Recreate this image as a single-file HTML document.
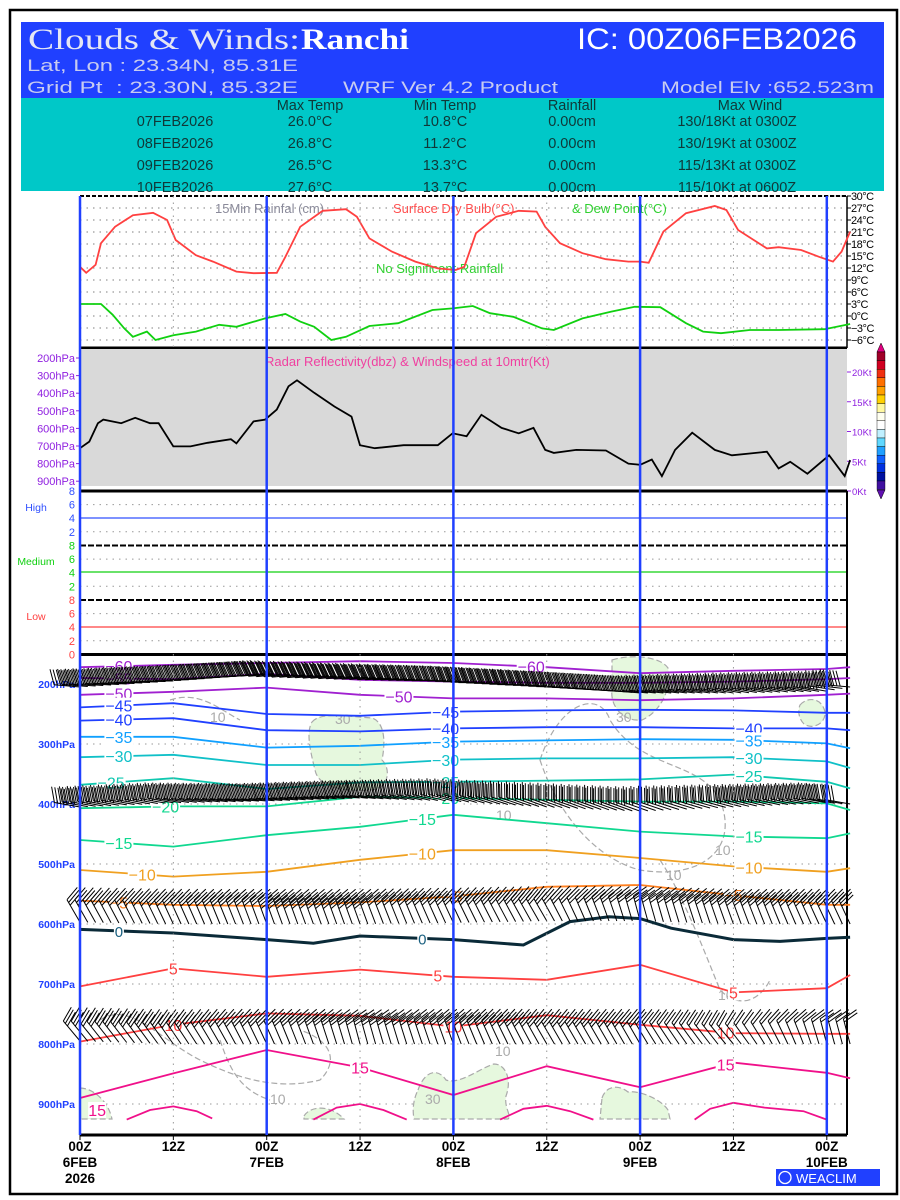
<!DOCTYPE html>
<html><head><meta charset="utf-8"><title>Clouds & Winds: Ranchi</title>
<style>
html,body{margin:0;padding:0;background:#fff;}
svg{display:block;font-family:"Liberation Sans",sans-serif;}
</style></head>
<body>
<svg id="chart" width="900" height="1200" viewBox="0 0 900 1200" xmlns="http://www.w3.org/2000/svg">
<rect x="10" y="10" width="887" height="1184" fill="#fff" stroke="#000" stroke-width="2.5"/>
<g>
<rect x="21" y="22" width="863" height="76" fill="#2040ff"/>
<text x="28" y="49" font-family="Liberation Serif,serif" font-size="30" fill="#e4e6f4" textLength="272" lengthAdjust="spacingAndGlyphs">Clouds &amp; Winds:</text>
<text x="301" y="49" font-family="Liberation Serif,serif" font-size="30" font-weight="bold" fill="#fff" textLength="108" lengthAdjust="spacingAndGlyphs">Ranchi</text>
<text x="577" y="49" font-size="30" fill="#fff" textLength="280" lengthAdjust="spacingAndGlyphs">IC: 00Z06FEB2026</text>
<text x="27" y="71" font-size="17" fill="#c8ccf0" textLength="271" lengthAdjust="spacingAndGlyphs">Lat, Lon : 23.34N, 85.31E</text>
<text x="27" y="93" font-size="17" fill="#c8ccf0" textLength="271" lengthAdjust="spacingAndGlyphs" xml:space="preserve">Grid Pt  : 23.30N, 85.32E</text>
<text x="343" y="93" font-size="17" fill="#c8ccf0" textLength="215" lengthAdjust="spacingAndGlyphs">WRF Ver 4.2 Product</text>
<text x="661" y="93" font-size="17" fill="#c8ccf0" textLength="213" lengthAdjust="spacingAndGlyphs">Model Elv :652.523m</text>
<rect x="21" y="98" width="863" height="93" fill="#00c8c8"/>
<g font-size="14.5" fill="#103838" text-anchor="middle">
<text x="310" y="110">Max Temp</text><text x="445" y="110">Min Temp</text><text x="572" y="110">Rainfall</text><text x="750" y="110">Max Wind</text>
<text x="175" y="126">07FEB2026</text><text x="310" y="126">26.0°C</text><text x="445" y="126">10.8°C</text><text x="572" y="126">0.00cm</text><text x="737" y="126">130/18Kt at 0300Z</text>
<text x="175" y="148">08FEB2026</text><text x="310" y="148">26.8°C</text><text x="445" y="148">11.2°C</text><text x="572" y="148">0.00cm</text><text x="737" y="148">130/19Kt at 0300Z</text>
<text x="175" y="170">09FEB2026</text><text x="310" y="170">26.5°C</text><text x="445" y="170">13.3°C</text><text x="572" y="170">0.00cm</text><text x="737" y="170">115/13Kt at 0300Z</text>
<text x="175" y="192">10FEB2026</text><text x="310" y="192">27.6°C</text><text x="445" y="192">13.7°C</text><text x="572" y="192">0.00cm</text><text x="737" y="192">115/10Kt at 0600Z</text>
</g>
</g>
<g id="layer"></g>
</svg>
<script>
// ---------- data ----------
const tempHours = [0,0.8,2,2.7,4.5,6.8,9.4,11.2,12.3,14.9,17.1,20.1,22.3,25.3,26.4,28.3,31.2,34.2,35.6,37.2,40.1,43.1,46,48.3,49.4,50.9,53.5,56.4,58.7,59.8,61.7,64.6,67.6,70.5,72,73.1,75,77.9,81.6,83.1,84.6,88.3,89.8,92.7,95,96.8,97.9,99];
const tempValues = [12.3,10.8,12.8,18.2,22.3,25.2,25.8,24,19,15.2,13.6,11.1,10.7,10.8,14.8,22.3,26.3,26.7,24.8,19.4,16.1,13.6,11.9,11.5,12.3,20.7,24.8,26.3,26.1,22.3,18.2,15.7,14.2,13.6,13.6,13.3,21.1,25.7,27.5,26.5,21.5,16.9,17.2,16.5,14.8,13.6,16.1,21.1];
const dewHours = [0,2.7,4.2,5.7,6.8,8.6,9.7,12,14.9,17.9,20.1,23.8,26.4,28.3,30.1,32.3,34.2,37.2,40.9,45.3,47.9,50.5,52.7,55.7,59.4,60.9,64.6,68.3,71.3,74.6,77.9,80.1,82.4,86.1,89.8,95.7,99];
const dewValues = [3,3,0.3,-3.1,-5.2,-3.9,-6,-4.8,-3.9,-2.2,-2.7,-0.6,0.5,-1.4,-2.7,-6,-5.2,-2.5,-1.8,1.5,1.9,2.5,0.7,-0.2,-3.1,-3.5,-0.6,1.1,2.3,2.2,-1.8,-3.9,-4.3,-3.5,-3.5,-3.3,-2];
const windHours = [0,1.2,2.3,3,5.3,7.1,9,10.1,12,14.2,16.4,19.4,20.1,22.3,23.8,25.3,26.8,27.9,30.1,32.7,34.9,36,37.9,41.6,46,47.9,49.7,51.6,54.2,56.4,58.3,59.8,60.9,63.8,67.6,70.5,72,73.5,74.8,76.5,78.7,81.6,83.8,86.1,88.3,89.8,91.3,93.5,96.3,98.3,99];
const windSpeed = [7.2,8.3,11.4,12,11.4,12.3,11.4,11.4,7.5,7.5,8.1,8.7,8,11.7,12,13.7,17.6,18.6,16.5,14.2,12.5,7.7,7.2,7.7,7.7,9.7,9.2,12.8,10.6,9.7,10.6,6.9,6.4,6.9,6.8,4.6,4.4,5.3,2.5,6.9,9.8,6.9,6,6.3,6.6,3.8,4.9,2.9,6,2.5,5.2];
const tempTicks = [30,27,24,21,18,15,12,9,6,3,0,-3,-6];
const windTicks = [20,15,10,5,0];
const presTicks = [200,300,400,500,600,700,800,900];
const isoHours = [0,12,24,36,48,60,72,84,96,99];
const isoLabels = [-60,-55,-50,-45,-40,-35,-30,-25,-20,-15,-10,-5,5,10,15];
const isoM60 = [172,168,165,162,165,172,182,178,175,172];
const isoM55 = [190,192,183,193,196,198,198,196,192,190];
const isoM50 = [218,213,206,218,224,224,227,224,218,216];
const isoM45 = [239,232,250,253,246,244,243,244,248,248];
const isoM40 = [261,257,277,279,274,272,272,274,274,277];
const isoM35 = [288,288,306,303,296,294,292,293,299,307];
const isoM30 = [322,318,335,335,326,324,324,322,329,340];
const isoM25 = [368,357,375,364,363,361,359,351,363,374];
const isoM20 = [407,404,404,388,390,393,396,396,399,410];
const isoM15 = [460,471,452,438,418,432,446,454,457,449];
const isoM10 = [510,521,513,493,477,477,490,504,513,507];
const isoM5 = [561,568,570,564,554,538,535,552,568,568];
const iso5 = [704,674,688,676,688,693,668,714,707,685];
const iso10 = [796,768,749,753,771,752,768,782,783,783];
const iso15 = [890,849,810,839,885,837,872,831,848,857];
const zeroHours = [0,12,24,30,36,48,57,63,68,72,76,84,90,96,99];
const zeroPres = [609,615,626,632,620,626,635,596,588,591,607,626,629,624,622];
const arcHours = [[6,9,12,15,17],[30,33,36,39,42],[54,57,60,63,66],[79,81,84,88,93,96]];
const arcPres = [[926,910,904,912,924],[926,906,900,910,926],[926,908,903,912,926],[926,908,898,906,912,926]];
const barbHours = [0,12,24,36,48,60,72,84,96,99];
const barbBase200 = [205,195,183,188,195,203,215,215,212,205];
const barbDir200 = [275,270,265,265,270,270,275,280,280,275];
const barbSpd200 = [60,65,80,85,85,80,75,60,55,55];
const barbBase400 = [405,398,395,390,395,405,412,405,398,400];
const barbDir400 = [280,280,275,275,285,290,290,285,280,280];
const barbSpd400 = [45,50,55,55,50,40,40,45,45,40];
const barbBase600 = [597,600,600,600,598,595,595,600,600,600];
const barbDir600 = [330,335,340,340,335,330,345,340,335,335];
const barbSpd600 = [30,30,35,35,30,25,25,25,30,30];
const barbBase800 = [795,800,800,800,800,800,800,800,800,800];
const barbDir800 = [320,325,335,345,340,330,330,320,345,345];
const barbSpd800 = [25,25,25,25,25,25,25,20,20,20];

// ---------- axes ----------
const X0=80, XR=847, PXH=186.7/24;
const xH = h => X0 + h*PXH;
const yT = t => 196 + (30-t)*4;
const yW = k => 491 - k*5.95;
const yP = p => 684 + (p-200)*0.6;
const NS="http://www.w3.org/2000/svg";
const layer=document.getElementById('layer');
function mk(tag, attrs, parent){const e=document.createElementNS(NS,tag);for(const k in attrs)e.setAttribute(k,attrs[k]);(parent||layer).appendChild(e);return e;}
function txt(x,y,s,attrs,parent){const e=mk('text',Object.assign({x:x,y:y},attrs),parent);e.textContent=s;return e;}
function pathFrom(hs,vs,fy){return hs.map((h,i)=>(i?'L':'M')+xH(h).toFixed(1)+' '+fy(vs[i]).toFixed(1)).join(' ');}
function interp(hs,vs,h){if(h<=hs[0])return vs[0];for(let i=1;i<hs.length;i++){if(h<=hs[i]){const f=(h-hs[i-1])/(hs[i]-hs[i-1]);return vs[i-1]+f*(vs[i]-vs[i-1]);}}return vs[vs.length-1];}

// ---------- panel 1: temperature ----------
const p1=mk('g',{});


tempTicks.forEach(t=>{
  const l=mk('line',{x1:X0,x2:XR,y1:yT(t),y2:yT(t),stroke:'#999','stroke-dasharray':'1.5 5','stroke-width':1.2},p1);
  
  
  mk('line',{x1:XR,x2:XR+4,y1:yT(t),y2:yT(t),stroke:'#000'},p1);
  const tl=txt(XR+4,yT(t)+4,(t<0?'\u2212':'')+Math.abs(t)+'°C',{'font-size':11,fill:'#000','letter-spacing':'-0.5'},p1);
  
  
});
mk('line',{x1:X0,x2:XR,y1:196,y2:196,stroke:'#000','stroke-width':2,'stroke-dasharray':'4 2'},p1);
mk('line',{x1:XR,x2:XR,y1:196,y2:348,stroke:'#000','stroke-width':1.5},p1);
const lg1=txt(215,213,'15Min Rainfal (cm)',{'font-size':13,fill:'#8a8a9a'},p1);


const lg2=txt(393,213,'Surface Dry Bulb(°C)',{'font-size':13,fill:'#ff5050'},p1);


const lg3=txt(572,213,'& Dew Point(°C)',{'font-size':13,fill:'#30d030'},p1);


const nr=txt(376,273,'No Significant Rainfall',{'font-size':13,fill:'#30d030'},p1);


const tline=mk('path',{d:pathFrom(tempHours,tempValues,yT),fill:'none',stroke:'#ff4040','stroke-width':1.8},p1);


const dline=mk('path',{d:pathFrom(dewHours,dewValues,yT),fill:'none',stroke:'#10d010','stroke-width':1.8},p1);


mk('line',{x1:X0,x2:XR,y1:348,y2:348,stroke:'#000','stroke-width':3},p1);

// ---------- panel 2: wind speed ----------
const p2=mk('g',{});


mk('rect',{x:X0,y:349,width:XR-X0,height:137,fill:'#d9d9d9'},p2);
['200hPa','300hPa','400hPa','500hPa','600hPa','700hPa','800hPa','900hPa'].forEach((s,i)=>{
  const y=358+i*17.6;
  const l=txt(75,y+4,s,{'font-size':11,fill:'#9020e0','text-anchor':'end'},p2);
  
  
  mk('line',{x1:76,x2:80,y1:y,y2:y,stroke:'#9020e0'},p2);
});
windTicks.forEach(k=>{
  mk('line',{x1:XR,x2:XR+4,y1:yW(k),y2:yW(k),stroke:'#9020e0'},p2);
  const l=txt(XR+5,yW(k)+4,k+'Kt',{'font-size':9.5,fill:'#9020e0'},p2);
  
  
});
const rt=txt(265,366,'Radar Reflectivity(dbz) & Windspeed at 10mtr(Kt)',{'font-size':13,fill:'#f040a0'},p2);


const wl=mk('path',{d:pathFrom(windHours,windSpeed,yW),fill:'none',stroke:'#000','stroke-width':1.8},p2);


mk('line',{x1:X0,x2:XR,y1:491,y2:491,stroke:'#000','stroke-width':3},p2);
const cbCols=['#a00028','#d00020','#f03010','#ff7000','#ffa000','#ffd000','#fff8a0','#fffff0','#ffffff','#c0f0ff','#60d8ff','#20a0ff','#1060ff','#0030e0','#0010a0','#4010a0'];
const cb=mk('g',{},p2);


mk('polygon',{points:'877,352 885,352 881,343',fill:'#e00080',stroke:'#000','stroke-width':0.5},cb);
cbCols.forEach((c,i)=>mk('rect',{x:877,y:352+i*8.6,width:8,height:8.6,fill:c,stroke:'#000','stroke-width':0.4},cb));
mk('polygon',{points:'877,490 885,490 881,499',fill:'#6010b0',stroke:'#000','stroke-width':0.5},cb);

// ---------- panel 3: cloud cover ----------
const p3=mk('g',{});


const bands=[{top:491,col:'#3050ff',name:'High',ly:518},{top:545.5,col:'#10d010',name:'Medium',ly:572},{top:600,col:'#ff4040',name:'Low',ly:627}];
bands.forEach((b,bi)=>{
  [8,6,4,2,0].forEach((v,i)=>{
    const y=b.top+i*13.6;
    if(v===6||v===2) mk('line',{x1:X0,x2:XR,y1:y,y2:y,stroke:'#999','stroke-dasharray':'1.5 5'},p3);
    if(!(bi<2&&v===0)){const l=txt(75,y+4,String(v),{'font-size':11,fill:b.col,'text-anchor':'end'},p3);
    
    }
  });
  mk('line',{x1:X0,x2:XR,y1:b.ly,y2:b.ly,stroke:b.col,'stroke-width':1.2},p3);
  const n=txt(36,b.ly-7,b.name,{'font-size':10.5,fill:b.col,'text-anchor':'middle'},p3);
  
  
});
mk('line',{x1:X0,x2:XR,y1:545.5,y2:545.5,stroke:'#000','stroke-width':2,'stroke-dasharray':'6 2'},p3);
mk('line',{x1:X0,x2:XR,y1:600,y2:600,stroke:'#000','stroke-width':2,'stroke-dasharray':'6 2'},p3);
mk('line',{x1:XR,x2:XR,y1:491,y2:1135,stroke:'#000','stroke-width':2},p3);
mk('line',{x1:X0,x2:XR,y1:654.5,y2:654.5,stroke:'#000','stroke-width':3},p3);

// ---------- panel 4: pressure-time cross section ----------
const p4=mk('g',{});


presTicks.forEach(p=>{
  if(p>200) mk('line',{x1:X0,x2:XR,y1:yP(p),y2:yP(p),stroke:'#999','stroke-dasharray':'1.5 5'},p4);
  const l=txt(75,yP(p)+4,p+'hPa',{'font-size':10.5,'font-weight':'bold',fill:'#2040ff','text-anchor':'end'},p4);
  
  
});
const blobs=[
 'M312 722 C320 712 345 716 372 718 C384 722 386 740 382 760 C392 770 388 790 370 790 C340 792 318 786 315 770 C310 750 306 732 312 722Z',
 'M612 660 C630 654 660 656 668 668 C672 690 660 712 642 720 C622 722 610 705 612 690Z',
 'M800 705 C808 696 822 698 825 712 C826 724 812 730 804 724 C798 718 798 710 800 705Z',
 'M418 1090 C425 1070 438 1068 446 1080 C460 1085 480 1068 494 1064 C506 1064 512 1080 506 1096 C504 1108 512 1116 508 1119 L414 1119 C412 1108 414 1098 418 1090Z',
 'M602 1098 C606 1086 618 1084 628 1092 C640 1090 662 1100 668 1110 L670 1119 L600 1119Z',
 'M80 1088 C92 1088 108 1100 112 1119 L80 1119Z',
 'M304 1116 C310 1106 330 1104 344 1119 L304 1119Z'];
blobs.forEach(d=>{
  const b=mk('path',{d:d,fill:'#e6f8de',stroke:'#aaa','stroke-dasharray':'6 3','stroke-width':1.2},p4);
  
  
});
['M540 760 C560 700 600 690 610 720 C640 770 700 760 720 800 C740 850 700 880 640 870 C600 860 560 820 540 760Z',
 'M100 1020 C130 1000 160 1040 200 1060 C240 1080 280 1090 320 1080 C340 1060 330 1040 300 1030',
 'M220 1040 C230 1070 240 1090 270 1100',
 'M660 860 C680 890 700 940 720 990 C740 1010 760 1000 770 980',
 'M170 700 C200 690 220 710 240 720'].forEach(d=>{
  const c=mk('path',{d:d,fill:'none',stroke:'#aaa','stroke-dasharray':'6 3','stroke-width':1.2},p4);
  
  
});
[[210,722,'10'],[335,724,'30'],[616,722,'30'],[496,820,'10'],[666,880,'10'],[270,1104,'10'],[425,1104,'30'],[495,1056,'10'],[718,1000,'10'],[715,855,'10']].forEach(a=>{
  const l=txt(a[0],a[1],a[2],{'font-size':14,fill:'#aaa'},p4);
  
  
});
const isoSeries=[isoM60,isoM55,isoM50,isoM45,isoM40,isoM35,isoM30,isoM25,isoM20,isoM15,isoM10,isoM5,iso5,iso10,iso15];
const isoColors=['#a020d0','#a020d0','#a020d0','#2040ff','#2040ff','#10a0ff','#10c0c8','#10c8b0','#10d890','#10d890','#f0a020','#ff8020','#ff4040','#ff4040','#f0108a'];
const labelHours=[[5,58],[5],[5,41],[5,47],[5,47,86],[5,47,86],[5,47,86],[4,47,86],[11,47],[5,44,86],[8,44,86],[5,48,84],[12,46,84],[12,48,83],[36,83]];
isoSeries.forEach((arr,i)=>{
  const pth=mk('path',{d:pathFrom(isoHours,arr,yP),fill:'none',stroke:isoColors[i],'stroke-width':1.8},p4);
  
  
  labelHours[i].forEach(h=>{
    const lab=isoLabels[i];
    const s=(lab<0?'\u2212':'')+Math.abs(lab);
    const y=yP(interp(isoHours,arr,h));
    const w=s.length*9+2;
    mk('rect',{x:xH(h)-w/2,y:y-8,width:w,height:16,fill:'#fff'},p4);
    const l=txt(xH(h),y+6,s,{'font-size':16,fill:isoColors[i],'text-anchor':'middle'},p4);
    
    
  });
});
const zero=mk('path',{d:pathFrom(zeroHours,zeroPres,yP),fill:'none',stroke:'#0a2a38','stroke-width':3},p4);


[5,44].forEach(h=>{
  const y=yP(interp(zeroHours,zeroPres,h));
  mk('rect',{x:xH(h)-5,y:y-8,width:10,height:16,fill:'#fff'},p4);
  const l=txt(xH(h),y+6,'0',{'font-size':15,fill:'#1a6080','text-anchor':'middle'},p4);
  
  
});
arcHours.forEach((hs,i)=>{
  const a=mk('path',{d:pathFrom(hs,arcPres[i],yP),fill:'none',stroke:'#f0108a','stroke-width':1.8},p4);
  
  
});
mk('rect',{x:xH(2.2)-9,y:yP(910)-8,width:18,height:16,fill:'#fff'},p4);
const l15=txt(xH(2.2),yP(910)+6,'15',{'font-size':16,fill:'#f0108a','text-anchor':'middle'},p4);



const barbLevels=[[barbBase200,barbDir200,barbSpd200],[barbBase400,barbDir400,barbSpd400],[barbBase600,barbDir600,barbSpd600],[barbBase800,barbDir800,barbSpd800]];
barbLevels.forEach((lv,li)=>{
  const g=mk('g',{stroke:'#000','stroke-width':1,fill:'none'},p4);
  
  
  for(let h=0;h<=99;h+=1){
    const p=interp(barbHours,lv[0],h), d=interp(barbHours,lv[1],h)*Math.PI/180, s=interp(barbHours,lv[2],h);
    const x=xH(h), y=yP(p);
    const ux=Math.sin(d), uy=-Math.cos(d);
    const L=26;
    const ex=x+ux*L, ey=y+uy*L;
    const th=70*Math.PI/180;
    const fx=ux*Math.cos(th)-uy*Math.sin(th), fy=ux*Math.sin(th)+uy*Math.cos(th);
    let dd='M'+x.toFixed(1)+' '+y.toFixed(1)+'L'+ex.toFixed(1)+' '+ey.toFixed(1);
    const n=Math.min(6,Math.round(s/10));
    for(let k=0;k<n;k++){
      const bx=ex-ux*k*3.2, by=ey-uy*k*3.2;
      dd+='M'+bx.toFixed(1)+' '+by.toFixed(1)+'L'+(bx+fx*16).toFixed(1)+' '+(by+fy*16).toFixed(1);
    }
    const b=mk('path',{d:dd},g);
    
    
  }
});
mk('line',{x1:X0,x2:XR,y1:1135,y2:1135,stroke:'#000','stroke-width':3},p4);

// ---------- time axis ----------
const tx=mk('g',{});


[12,36,60,84].forEach(h=>{
  mk('line',{x1:xH(h),x2:xH(h),y1:196,y2:348,stroke:'#999','stroke-dasharray':'1.5 5'},tx);
  mk('line',{x1:xH(h),x2:xH(h),y1:654,y2:1135,stroke:'#999','stroke-dasharray':'1.5 5'},tx);
});
[0,24,48,72,96].forEach(h=>{
  const v=mk('line',{x1:xH(h),x2:xH(h),y1:196,y2:1135,stroke:'#2040ff','stroke-width':2.5},tx);
  
  
});
const xt=[[0,'00Z','6FEB','2026'],[12,'12Z'],[24,'00Z','7FEB'],[36,'12Z'],[48,'00Z','8FEB'],[60,'12Z'],[72,'00Z','9FEB'],[84,'12Z'],[96,'00Z','10FEB']];
xt.forEach(t=>{
  mk('line',{x1:xH(t[0]),x2:xH(t[0]),y1:1135,y2:1140,stroke:'#000'},tx);
  t.slice(1).forEach((s,i)=>{
    const l=txt(xH(t[0]),1151+i*16,s,{'font-size':13.5,'font-weight':'bold','text-anchor':'middle',fill:'#000'},tx);
    
    
  });
});
const wc=mk('g',{});


mk('rect',{x:776,y:1169,width:104,height:17,fill:'#2040ff'},wc);
mk('circle',{cx:785,cy:1177.5,r:6,fill:'none',stroke:'#fff','stroke-width':1.3},wc);
txt(796,1183,'WEACLIM',{'font-size':13,fill:'#fff'},wc);
</script>
</body></html>
